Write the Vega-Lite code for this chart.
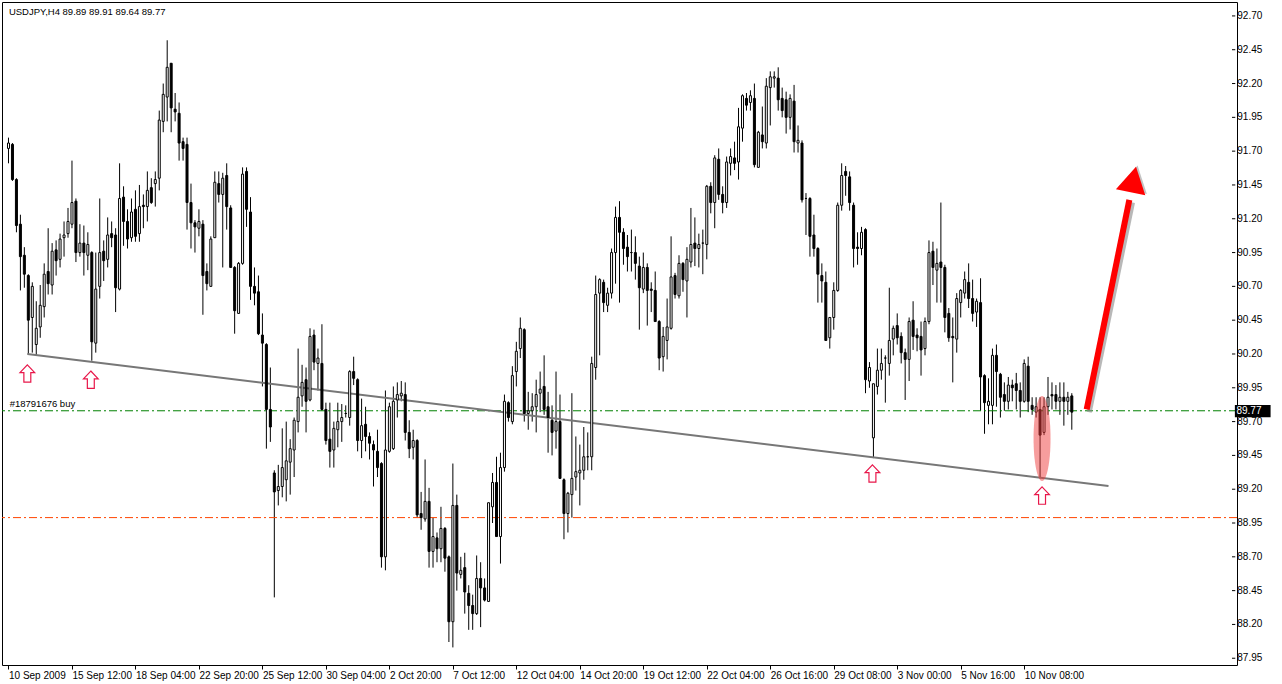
{
"$schema":"https://vega.github.io/schema/vega-lite/v6.json",
"autosize":"none","width":1235,"height":663,
"padding":{"left":2,"top":2,"right":45,"bottom":19},
"background":"white",
"config":{"view":{"stroke":"black","strokeWidth":1},"font":"Liberation Sans","axis":{"labelOverlap":false,"labelBound":false,"labelFlush":false,"grid":false,"domain":false}},
"datasets":{
"yl":[{"p":87.95,"t":"87.95"},{"p":88.2,"t":"88.20"},{"p":88.45,"t":"88.45"},{"p":88.7,"t":"88.70"},{"p":88.95,"t":"88.95"},{"p":89.2,"t":"89.20"},{"p":89.45,"t":"89.45"},{"p":89.7,"t":"89.70"},{"p":89.95,"t":"89.95"},{"p":90.2,"t":"90.20"},{"p":90.45,"t":"90.45"},{"p":90.7,"t":"90.70"},{"p":90.95,"t":"90.95"},{"p":91.2,"t":"91.20"},{"p":91.45,"t":"91.45"},{"p":91.7,"t":"91.70"},{"p":91.95,"t":"91.95"},{"p":92.2,"t":"92.20"},{"p":92.45,"t":"92.45"},{"p":92.7,"t":"92.70"}],
"c":[
{"i":0,"o":91.72,"h":91.80,"l":91.61,"c":91.76},{"i":1,"o":91.75,"h":91.76,"l":91.48,"c":91.49},{"i":2,"o":91.49,"h":91.50,"l":91.10,"c":91.15},{"i":3,"o":91.16,"h":91.23,"l":90.67,"c":90.92},{"i":4,"o":90.93,"h":90.99,"l":90.69,"c":90.79},{"i":5,"o":90.78,"h":90.79,"l":90.20,"c":90.45},{"i":6,"o":90.47,"h":90.73,"l":90.21,"c":90.70},{"i":7,"o":90.27,"h":90.59,"l":90.19,"c":90.39},{"i":8,"o":90.40,"h":90.71,"l":90.32,"c":90.56},{"i":9,"o":90.55,"h":90.87,"l":90.47,"c":90.79},
{"i":10,"o":90.81,"h":91.13,"l":90.64,"c":90.72},{"i":11,"o":90.71,"h":91.02,"l":90.64,"c":90.96},{"i":12,"o":90.97,"h":91.04,"l":90.78,"c":90.89},{"i":13,"o":90.90,"h":91.09,"l":90.84,"c":91.05},{"i":14,"o":91.06,"h":91.18,"l":90.92,"c":91.08},{"i":15,"o":91.09,"h":91.28,"l":91.06,"c":91.18},{"i":16,"o":91.16,"h":91.63,"l":91.13,"c":91.32},{"i":17,"o":91.33,"h":91.35,"l":90.88,"c":90.95},{"i":18,"o":90.95,"h":91.16,"l":90.92,"c":91.02},{"i":19,"o":91.02,"h":91.15,"l":90.78,"c":90.95},
{"i":20,"o":90.93,"h":91.10,"l":90.82,"c":91.01},{"i":21,"o":90.95,"h":90.96,"l":90.15,"c":90.29},{"i":22,"o":90.28,"h":90.95,"l":90.21,"c":90.68},{"i":23,"o":90.70,"h":91.35,"l":90.61,"c":90.95},{"i":24,"o":90.96,"h":91.04,"l":90.74,"c":90.89},{"i":25,"o":90.90,"h":91.21,"l":90.84,"c":91.08},{"i":26,"o":91.09,"h":91.18,"l":90.99,"c":91.06},{"i":27,"o":91.08,"h":91.13,"l":90.51,"c":90.69},{"i":28,"o":90.68,"h":91.61,"l":90.67,"c":91.35},{"i":29,"o":91.36,"h":91.44,"l":91.00,"c":91.18},
{"i":30,"o":91.18,"h":91.27,"l":90.98,"c":91.05},{"i":31,"o":91.06,"h":91.35,"l":91.03,"c":91.25},{"i":32,"o":91.27,"h":91.41,"l":91.03,"c":91.07},{"i":33,"o":91.09,"h":91.45,"l":91.03,"c":91.29},{"i":34,"o":91.30,"h":91.38,"l":91.13,"c":91.29},{"i":35,"o":91.29,"h":91.55,"l":91.18,"c":91.41},{"i":36,"o":91.43,"h":91.50,"l":91.31,"c":91.32},{"i":37,"o":91.46,"h":91.55,"l":91.29,"c":91.49},{"i":38,"o":91.50,"h":92.00,"l":91.41,"c":91.93},{"i":39,"o":91.92,"h":92.20,"l":91.84,"c":92.12},
{"i":40,"o":92.10,"h":92.52,"l":91.92,"c":92.32},{"i":41,"o":92.35,"h":92.35,"l":91.84,"c":92.02},{"i":42,"o":92.01,"h":92.13,"l":91.92,"c":91.99},{"i":43,"o":91.98,"h":92.06,"l":91.63,"c":91.76},{"i":44,"o":91.77,"h":91.80,"l":91.63,"c":91.72},{"i":45,"o":91.75,"h":91.80,"l":91.12,"c":91.32},{"i":46,"o":91.32,"h":91.46,"l":90.98,"c":91.17},{"i":47,"o":91.17,"h":91.19,"l":90.95,"c":91.14},{"i":48,"o":91.13,"h":91.27,"l":91.07,"c":91.18},{"i":49,"o":91.16,"h":91.19,"l":90.49,"c":90.78},
{"i":50,"o":90.81,"h":90.87,"l":90.67,"c":90.72},{"i":51,"o":90.70,"h":91.07,"l":90.70,"c":91.05},{"i":52,"o":91.06,"h":91.55,"l":91.06,"c":91.47},{"i":53,"o":91.46,"h":91.55,"l":91.32,"c":91.38},{"i":54,"o":91.38,"h":91.54,"l":90.84,"c":91.50},{"i":55,"o":91.52,"h":91.61,"l":91.12,"c":91.29},{"i":56,"o":91.28,"h":91.30,"l":90.84,"c":90.84},{"i":57,"o":90.84,"h":90.85,"l":90.35,"c":90.52},{"i":58,"o":90.50,"h":90.88,"l":90.50,"c":90.87},{"i":59,"o":90.87,"h":91.58,"l":90.86,"c":91.53},
{"i":60,"o":91.55,"h":91.58,"l":91.14,"c":91.27},{"i":61,"o":91.25,"h":91.36,"l":90.60,"c":90.70},{"i":62,"o":90.70,"h":90.84,"l":90.56,"c":90.65},{"i":63,"o":90.66,"h":90.78,"l":90.34,"c":90.35},{"i":64,"o":90.34,"h":90.50,"l":89.96,"c":90.28},{"i":65,"o":90.27,"h":90.28,"l":89.50,"c":89.79},{"i":66,"o":89.79,"h":90.10,"l":89.55,"c":89.66},{"i":67,"o":89.32,"h":89.34,"l":88.40,"c":89.18},{"i":68,"o":89.19,"h":89.38,"l":89.08,"c":89.22},{"i":69,"o":89.22,"h":89.65,"l":89.14,"c":89.36},
{"i":70,"o":89.27,"h":89.70,"l":89.11,"c":89.41},{"i":71,"o":89.40,"h":89.57,"l":89.16,"c":89.50},{"i":72,"o":89.49,"h":89.73,"l":89.29,"c":89.71},{"i":73,"o":89.70,"h":90.24,"l":89.62,"c":89.88},{"i":74,"o":89.89,"h":90.12,"l":89.81,"c":89.99},{"i":75,"o":90.01,"h":90.10,"l":89.62,"c":89.85},{"i":76,"o":89.86,"h":90.39,"l":89.85,"c":90.33},{"i":77,"o":90.34,"h":90.38,"l":90.08,"c":90.14},{"i":78,"o":90.13,"h":90.24,"l":89.93,"c":90.17},{"i":79,"o":90.13,"h":90.42,"l":89.78,"c":89.79},
{"i":80,"o":89.79,"h":89.84,"l":89.53,"c":89.56},{"i":81,"o":89.57,"h":89.84,"l":89.36,"c":89.48},{"i":82,"o":89.49,"h":89.70,"l":89.36,"c":89.65},{"i":83,"o":89.64,"h":89.84,"l":89.51,"c":89.70},{"i":84,"o":89.70,"h":89.83,"l":89.55,"c":89.73},{"i":85,"o":89.76,"h":89.82,"l":89.73,"c":89.76},{"i":86,"o":89.73,"h":90.08,"l":89.67,"c":90.07},{"i":87,"o":90.07,"h":90.18,"l":89.97,"c":90.02},{"i":88,"o":90.01,"h":90.02,"l":89.48,"c":89.56},{"i":89,"o":89.56,"h":89.87,"l":89.43,"c":89.67},
{"i":90,"o":89.68,"h":89.81,"l":89.48,"c":89.59},{"i":91,"o":89.59,"h":89.62,"l":89.42,"c":89.54},{"i":92,"o":89.53,"h":89.56,"l":89.22,"c":89.49},{"i":93,"o":89.48,"h":89.64,"l":89.29,"c":89.36},{"i":94,"o":89.39,"h":89.40,"l":88.62,"c":88.70},{"i":95,"o":88.70,"h":89.93,"l":88.60,"c":89.49},{"i":96,"o":89.48,"h":89.84,"l":89.47,"c":89.81},{"i":97,"o":89.50,"h":89.96,"l":89.49,"c":89.85},{"i":98,"o":89.86,"h":89.99,"l":89.73,"c":89.90},{"i":99,"o":89.89,"h":90.00,"l":89.85,"c":89.91},
{"i":100,"o":89.90,"h":89.99,"l":89.56,"c":89.62},{"i":101,"o":89.62,"h":89.71,"l":89.43,"c":89.50},{"i":102,"o":89.51,"h":89.64,"l":89.42,"c":89.56},{"i":103,"o":89.56,"h":89.57,"l":88.99,"c":89.01},{"i":104,"o":89.02,"h":89.18,"l":88.90,"c":88.99},{"i":105,"o":88.98,"h":89.42,"l":88.96,"c":89.11},{"i":106,"o":89.11,"h":89.21,"l":88.62,"c":88.74},{"i":107,"o":88.74,"h":88.99,"l":88.62,"c":88.85},{"i":108,"o":88.84,"h":88.88,"l":88.66,"c":88.76},{"i":109,"o":88.76,"h":89.07,"l":88.66,"c":88.91},
{"i":110,"o":88.91,"h":88.92,"l":88.59,"c":88.69},{"i":111,"o":88.70,"h":88.71,"l":88.07,"c":88.22},{"i":112,"o":88.22,"h":89.39,"l":88.03,"c":89.08},{"i":113,"o":89.08,"h":89.16,"l":88.45,"c":88.58},{"i":114,"o":88.57,"h":88.70,"l":88.54,"c":88.60},{"i":115,"o":88.62,"h":88.73,"l":88.28,"c":88.44},{"i":116,"o":88.43,"h":88.49,"l":88.16,"c":88.34},{"i":117,"o":88.34,"h":88.42,"l":88.16,"c":88.28},{"i":118,"o":88.28,"h":88.71,"l":88.27,"c":88.54},{"i":119,"o":88.54,"h":88.66,"l":88.18,"c":88.47},
{"i":120,"o":88.47,"h":88.54,"l":88.37,"c":88.38},{"i":121,"o":88.37,"h":89.10,"l":88.37,"c":89.10},{"i":122,"o":89.07,"h":89.32,"l":88.95,"c":89.25},{"i":123,"o":89.25,"h":89.44,"l":88.85,"c":88.85},{"i":124,"o":88.85,"h":89.47,"l":88.65,"c":89.36},{"i":125,"o":89.36,"h":89.90,"l":89.33,"c":89.85},{"i":126,"o":89.84,"h":89.85,"l":89.70,"c":89.73},{"i":127,"o":89.70,"h":90.11,"l":89.68,"c":90.04},{"i":128,"o":90.07,"h":90.29,"l":89.96,"c":90.22},{"i":129,"o":90.24,"h":90.47,"l":90.17,"c":90.39},
{"i":130,"o":90.38,"h":90.39,"l":89.70,"c":89.76},{"i":131,"o":89.76,"h":89.92,"l":89.64,"c":89.78},{"i":132,"o":89.78,"h":89.91,"l":89.70,"c":89.81},{"i":133,"o":89.81,"h":90.01,"l":89.62,"c":89.90},{"i":134,"o":89.91,"h":90.07,"l":89.77,"c":89.94},{"i":135,"o":89.96,"h":90.19,"l":89.75,"c":89.79},{"i":136,"o":89.81,"h":89.92,"l":89.47,"c":89.73},{"i":137,"o":89.71,"h":89.82,"l":89.45,"c":89.62},{"i":138,"o":89.63,"h":90.07,"l":89.50,"c":89.70},{"i":139,"o":89.70,"h":89.90,"l":89.28,"c":89.28},
{"i":140,"o":89.27,"h":89.28,"l":88.83,"c":89.02},{"i":141,"o":89.02,"h":89.18,"l":88.88,"c":89.17},{"i":142,"o":89.16,"h":89.91,"l":88.99,"c":89.28},{"i":143,"o":89.29,"h":89.59,"l":89.19,"c":89.33},{"i":144,"o":89.32,"h":89.53,"l":89.08,"c":89.34},{"i":145,"o":89.34,"h":89.66,"l":89.27,"c":89.44},{"i":146,"o":89.44,"h":89.62,"l":89.34,"c":89.44},{"i":147,"o":89.44,"h":90.18,"l":89.34,"c":90.13},{"i":148,"o":90.10,"h":90.78,"l":90.01,"c":90.64},{"i":149,"o":90.65,"h":90.76,"l":90.19,"c":90.75},
{"i":150,"o":90.73,"h":90.75,"l":90.51,"c":90.58},{"i":151,"o":90.56,"h":90.69,"l":90.51,"c":90.65},{"i":152,"o":90.65,"h":90.98,"l":90.61,"c":90.95},{"i":153,"o":90.95,"h":91.29,"l":90.72,"c":91.21},{"i":154,"o":91.21,"h":91.33,"l":90.58,"c":91.10},{"i":155,"o":91.10,"h":91.13,"l":90.86,"c":90.98},{"i":156,"o":90.99,"h":91.08,"l":90.81,"c":90.92},{"i":157,"o":90.95,"h":91.12,"l":90.81,"c":90.95},{"i":158,"o":90.95,"h":91.07,"l":90.75,"c":90.87},{"i":159,"o":90.85,"h":90.92,"l":90.38,"c":90.69},
{"i":160,"o":90.68,"h":90.95,"l":90.65,"c":90.84},{"i":161,"o":90.84,"h":90.87,"l":90.41,"c":90.67},{"i":162,"o":90.68,"h":90.73,"l":90.51,"c":90.67},{"i":163,"o":90.67,"h":90.81,"l":90.44,"c":90.44},{"i":164,"o":90.44,"h":90.45,"l":90.08,"c":90.17},{"i":165,"o":90.18,"h":90.40,"l":90.07,"c":90.33},{"i":166,"o":90.30,"h":90.61,"l":90.16,"c":90.40},{"i":167,"o":90.39,"h":91.07,"l":90.38,"c":90.77},{"i":168,"o":90.78,"h":90.80,"l":90.61,"c":90.64},{"i":169,"o":90.63,"h":90.93,"l":90.61,"c":90.87},
{"i":170,"o":90.87,"h":90.88,"l":90.66,"c":90.75},{"i":171,"o":90.74,"h":90.99,"l":90.47,"c":90.90},{"i":172,"o":90.88,"h":91.28,"l":90.84,"c":91.01},{"i":173,"o":91.02,"h":91.21,"l":90.85,"c":90.98},{"i":174,"o":90.98,"h":91.09,"l":90.84,"c":91.01},{"i":175,"o":91.02,"h":91.12,"l":90.79,"c":91.02},{"i":176,"o":91.01,"h":91.45,"l":90.90,"c":91.44},{"i":177,"o":91.44,"h":91.47,"l":91.24,"c":91.32},{"i":178,"o":91.32,"h":91.67,"l":91.13,"c":91.65},{"i":179,"o":91.64,"h":91.72,"l":91.34,"c":91.38},
{"i":180,"o":91.38,"h":91.44,"l":91.24,"c":91.32},{"i":181,"o":91.32,"h":91.66,"l":91.28,"c":91.62},{"i":182,"o":91.61,"h":91.72,"l":91.52,"c":91.66},{"i":183,"o":91.65,"h":91.77,"l":91.56,"c":91.61},{"i":184,"o":91.62,"h":92.02,"l":91.49,"c":91.88},{"i":185,"o":91.87,"h":92.12,"l":91.77,"c":92.11},{"i":186,"o":92.09,"h":92.13,"l":92.00,"c":92.04},{"i":187,"o":92.06,"h":92.15,"l":92.00,"c":92.11},{"i":188,"o":92.09,"h":92.20,"l":91.58,"c":91.60},{"i":189,"o":91.58,"h":91.85,"l":91.58,"c":91.84},
{"i":190,"o":91.82,"h":92.03,"l":91.72,"c":91.77},{"i":191,"o":91.76,"h":92.24,"l":91.72,"c":92.18},{"i":192,"o":92.17,"h":92.29,"l":91.89,"c":92.25},{"i":193,"o":92.24,"h":92.29,"l":92.17,"c":92.25},{"i":194,"o":92.24,"h":92.32,"l":92.00,"c":92.08},{"i":195,"o":92.09,"h":92.17,"l":91.95,"c":92.00},{"i":196,"o":92.08,"h":92.14,"l":91.83,"c":91.95},{"i":197,"o":91.95,"h":92.12,"l":91.86,"c":92.09},{"i":198,"o":92.07,"h":92.19,"l":91.69,"c":91.77},{"i":199,"o":91.76,"h":91.89,"l":91.69,"c":91.78},
{"i":200,"o":91.76,"h":91.78,"l":91.32,"c":91.34},{"i":201,"o":91.35,"h":91.39,"l":91.08,"c":91.35},{"i":202,"o":91.35,"h":91.36,"l":90.92,"c":91.07},{"i":203,"o":91.08,"h":91.23,"l":90.92,"c":90.98},{"i":204,"o":90.98,"h":90.99,"l":90.58,"c":90.79},{"i":205,"o":90.78,"h":90.87,"l":90.58,"c":90.74},{"i":206,"o":90.73,"h":90.81,"l":90.30,"c":90.30},{"i":207,"o":90.32,"h":90.47,"l":90.24,"c":90.47},{"i":208,"o":90.47,"h":90.73,"l":90.38,"c":90.67},{"i":209,"o":90.67,"h":91.32,"l":90.66,"c":91.30},
{"i":210,"o":91.30,"h":91.61,"l":91.26,"c":91.52},{"i":211,"o":91.55,"h":91.59,"l":91.37,"c":91.52},{"i":212,"o":91.51,"h":91.55,"l":91.26,"c":91.32},{"i":213,"o":91.30,"h":91.32,"l":90.84,"c":90.98},{"i":214,"o":90.99,"h":91.10,"l":90.86,"c":90.98},{"i":215,"o":90.98,"h":91.14,"l":90.93,"c":91.10},{"i":216,"o":91.12,"h":91.13,"l":89.91,"c":90.01},{"i":217,"o":90.00,"h":90.14,"l":89.95,"c":90.10},{"i":218,"o":89.58,"h":89.98,"l":89.43,"c":89.98},{"i":219,"o":89.96,"h":90.24,"l":89.90,"c":90.08},
{"i":220,"o":90.08,"h":90.24,"l":90.01,"c":90.13},{"i":221,"o":90.17,"h":90.19,"l":89.84,"c":90.17},{"i":222,"o":90.13,"h":90.69,"l":90.04,"c":90.30},{"i":223,"o":90.31,"h":90.41,"l":90.19,"c":90.39},{"i":224,"o":90.41,"h":90.50,"l":90.27,"c":90.32},{"i":225,"o":90.33,"h":90.36,"l":90.13,"c":90.21},{"i":226,"o":90.21,"h":90.24,"l":89.86,"c":90.16},{"i":227,"o":90.16,"h":90.47,"l":90.00,"c":90.44},{"i":228,"o":90.45,"h":90.59,"l":90.23,"c":90.33},{"i":229,"o":90.34,"h":90.39,"l":90.22,"c":90.32},
{"i":230,"o":90.33,"h":90.44,"l":90.04,"c":90.23},{"i":231,"o":90.24,"h":90.47,"l":90.19,"c":90.44},{"i":232,"o":90.44,"h":91.04,"l":90.42,"c":90.95},{"i":233,"o":90.96,"h":91.03,"l":90.71,"c":90.84},{"i":234,"o":90.82,"h":90.98,"l":90.58,"c":90.87},{"i":235,"o":90.88,"h":91.32,"l":90.58,"c":90.84},{"i":236,"o":90.84,"h":90.86,"l":90.36,"c":90.47},{"i":237,"o":90.50,"h":90.54,"l":90.29,"c":90.32},{"i":238,"o":90.33,"h":90.47,"l":89.99,"c":90.32},{"i":239,"o":90.31,"h":90.65,"l":90.21,"c":90.61},
{"i":240,"o":90.58,"h":90.68,"l":90.47,"c":90.67},{"i":241,"o":90.65,"h":90.81,"l":90.61,"c":90.75},{"i":242,"o":90.73,"h":90.87,"l":90.54,"c":90.61},{"i":243,"o":90.61,"h":90.75,"l":90.44,"c":90.50},{"i":244,"o":90.51,"h":90.61,"l":90.40,"c":90.59},{"i":245,"o":90.58,"h":90.76,"l":89.78,"c":90.03},{"i":246,"o":90.04,"h":90.05,"l":89.61,"c":89.84},{"i":247,"o":89.82,"h":90.02,"l":89.68,"c":89.85},{"i":248,"o":89.82,"h":90.24,"l":89.68,"c":90.19},{"i":249,"o":90.19,"h":90.27,"l":89.81,"c":90.07},
{"i":250,"o":90.05,"h":90.06,"l":89.73,"c":89.88},{"i":251,"o":89.90,"h":89.99,"l":89.78,"c":89.85},{"i":252,"o":89.85,"h":90.03,"l":89.79,"c":89.97},{"i":253,"o":89.97,"h":90.01,"l":89.85,"c":89.95},{"i":254,"o":89.98,"h":90.06,"l":89.79,"c":89.93},{"i":255,"o":89.93,"h":89.99,"l":89.73,"c":89.85},{"i":256,"o":89.85,"h":90.16,"l":89.84,"c":90.13},{"i":257,"o":90.11,"h":90.18,"l":89.77,"c":89.85},{"i":258,"o":89.82,"h":89.88,"l":89.75,"c":89.79},{"i":259,"o":89.77,"h":89.88,"l":89.73,"c":89.81},
{"i":260,"o":89.79,"h":89.88,"l":89.28,"c":89.60},{"i":261,"o":89.62,"h":89.88,"l":89.60,"c":89.81},{"i":262,"o":89.81,"h":90.03,"l":89.75,"c":89.88},{"i":263,"o":89.90,"h":89.99,"l":89.79,"c":89.89},{"i":264,"o":89.90,"h":89.97,"l":89.79,"c":89.85},{"i":265,"o":89.85,"h":89.99,"l":89.75,"c":89.88},{"i":266,"o":89.88,"h":89.99,"l":89.67,"c":89.85},{"i":267,"o":89.85,"h":89.92,"l":89.75,"c":89.88},{"i":268,"o":89.89,"h":89.91,"l":89.64,"c":89.77}
]},
"layer":[
{"data":{"name":"c"},"mark":{"type":"rule","color":"black","strokeWidth":1},
 "encoding":{
  "x":{"field":"i","type":"quantitative","title":null,"scale":{"domain":[-0.375,308.375],"nice":false,"zero":false},
   "axis":{"values":[0,16,32,48,64,80,96,112,128,144,160,176,192,208,224,240,256],
    "labelExpr":"['10 Sep 2009','15 Sep 12:00','18 Sep 04:00','22 Sep 20:00','25 Sep 12:00','30 Sep 04:00','2 Oct 20:00','7 Oct 12:00','12 Oct 04:00','14 Oct 20:00','19 Oct 12:00','22 Oct 04:00','26 Oct 16:00','29 Oct 08:00','3 Nov 00:00','5 Nov 16:00','10 Nov 08:00'][round(datum.value/16)]",
    "labelAlign":"left","labelBaseline":"top","tickSize":4,"labelPadding":1,"labelFontSize":10,"labelFont":"Liberation Sans","labelColor":"black","tickColor":"black"}},
  "y":{"field":"l","type":"quantitative","title":null,"scale":{"domain":[87.9,92.803],"nice":false,"zero":false},"axis":null},
  "y2":{"field":"h"}}},
{"data":{"name":"yl"},"mark":{"type":"rule","color":"black","strokeWidth":1},
 "encoding":{"x":{"datum":308.375,"type":"quantitative"},"x2":{"datum":309.2},"y":{"field":"p","type":"quantitative","title":null}}},
{"data":{"name":"yl"},"mark":{"type":"text","align":"left","baseline":"middle","fontSize":10,"font":"Liberation Sans","color":"black"},
 "encoding":{"x":{"datum":309.7,"type":"quantitative"},"y":{"field":"p","type":"quantitative","title":null},"text":{"field":"t"}}},
{"data":{"values":[{"p":88.99}]},"mark":{"type":"rule","color":"#ff4500","strokeWidth":1,"strokeDash":[8,3,2,3]},
 "encoding":{"y":{"field":"p","type":"quantitative","title":null}}},
{"data":{"values":[{"p":89.78}]},"mark":{"type":"rule","color":"#008000","strokeWidth":1,"strokeDash":[8,3,2,3]},
 "encoding":{"y":{"field":"p","type":"quantitative","title":null}}},
{"data":{"values":[{"i":4.75,"p":90.20},{"i":277.25,"p":89.224}]},"mark":{"type":"line","color":"#777777","strokeWidth":2},
 "encoding":{"x":{"field":"i","type":"quantitative","title":null},"y":{"field":"p","type":"quantitative","title":null}}},
{"data":{"name":"c"},"mark":{"type":"bar","width":2,"stroke":"black","strokeWidth":1},
 "encoding":{"x":{"field":"i","type":"quantitative","title":null},"y":{"field":"o","type":"quantitative","title":null},"y2":{"field":"c"},
  "fill":{"condition":{"test":"datum.c >= datum.o","value":"white"},"value":"black"}}},
{"data":{"values":[{"i":260.5,"p":89.575}]},"mark":{"type":"point","shape":"M-0.2,0 A0.2,1 0 1,0 0.2,0 A0.2,1 0 1,0 -0.2,0 Z","size":7225,"filled":true,"color":"#f03c3c","opacity":0.5,"strokeWidth":0},
 "encoding":{"x":{"field":"i","type":"quantitative","title":null},"y":{"field":"p","type":"quantitative","title":null}}},
{"data":{"values":[{"i":4.75,"p":90.056},{"i":20.75,"p":90.01},{"i":217.75,"p":89.316},{"i":260.5,"p":89.153}]},
 "mark":{"type":"point","shape":"M0,-1 L0.85,-0.1 L0.4,-0.1 L0.4,1 L-0.4,1 L-0.4,-0.1 L-0.85,-0.1 Z","size":300,"filled":false,"color":"#e8174a","strokeWidth":1.2,"opacity":1},
 "encoding":{"x":{"field":"i","type":"quantitative","title":null},"y":{"field":"p","type":"quantitative","title":null}}},
{"data":{"values":[{"i":272.4,"p":89.77},{"i":283.3,"p":91.32}]},"mark":{"type":"line","color":"#888888","strokeWidth":5,"opacity":0.6},
 "encoding":{"x":{"field":"i","type":"quantitative","title":null},"y":{"field":"p","type":"quantitative","title":null}}},
{"data":{"values":[{"i":283.9,"p":91.5}]},"mark":{"type":"point","shape":"triangle-up","angle":12,"size":900,"filled":true,"color":"#888888","opacity":0.5},
 "encoding":{"x":{"field":"i","type":"quantitative","title":null},"y":{"field":"p","type":"quantitative","title":null}}},
{"data":{"values":[{"i":271.75,"p":89.79},{"i":282.5,"p":91.34}]},"mark":{"type":"line","color":"#ff0000","strokeWidth":6},
 "encoding":{"x":{"field":"i","type":"quantitative","title":null},"y":{"field":"p","type":"quantitative","title":null}}},
{"data":{"values":[{"i":283.5,"p":91.49}]},"mark":{"type":"point","shape":"triangle-up","angle":12,"size":900,"filled":true,"color":"#ff0000","opacity":1},
 "encoding":{"x":{"field":"i","type":"quantitative","title":null},"y":{"field":"p","type":"quantitative","title":null}}},
{"data":{"values":[{"i":0.1,"p":92.73,"t":"USDJPY,H4  89.89 89.91 89.64 89.77"},{"i":0.3,"p":89.83,"t":"#18791676 buy"}]},
 "mark":{"type":"text","align":"left","baseline":"middle","fontSize":9.5,"font":"Liberation Sans","color":"black"},
 "encoding":{"x":{"field":"i","type":"quantitative","title":null},"y":{"field":"p","type":"quantitative","title":null},"text":{"field":"t"}}},
{"data":{"values":[{"a":309.1,"b":318.1,"p1":89.823,"p2":89.733}]},"mark":{"type":"rect","color":"black"},
 "encoding":{"x":{"field":"a","type":"quantitative","title":null},"x2":{"field":"b"},"y":{"field":"p1","type":"quantitative","title":null},"y2":{"field":"p2"}}},
{"data":{"values":[{"i":309.5,"p":89.778,"t":"89.77"}]},"mark":{"type":"text","align":"left","baseline":"middle","fontSize":10,"font":"Liberation Sans","color":"white"},
 "encoding":{"x":{"field":"i","type":"quantitative","title":null},"y":{"field":"p","type":"quantitative","title":null},"text":{"field":"t"}}}
]
}
